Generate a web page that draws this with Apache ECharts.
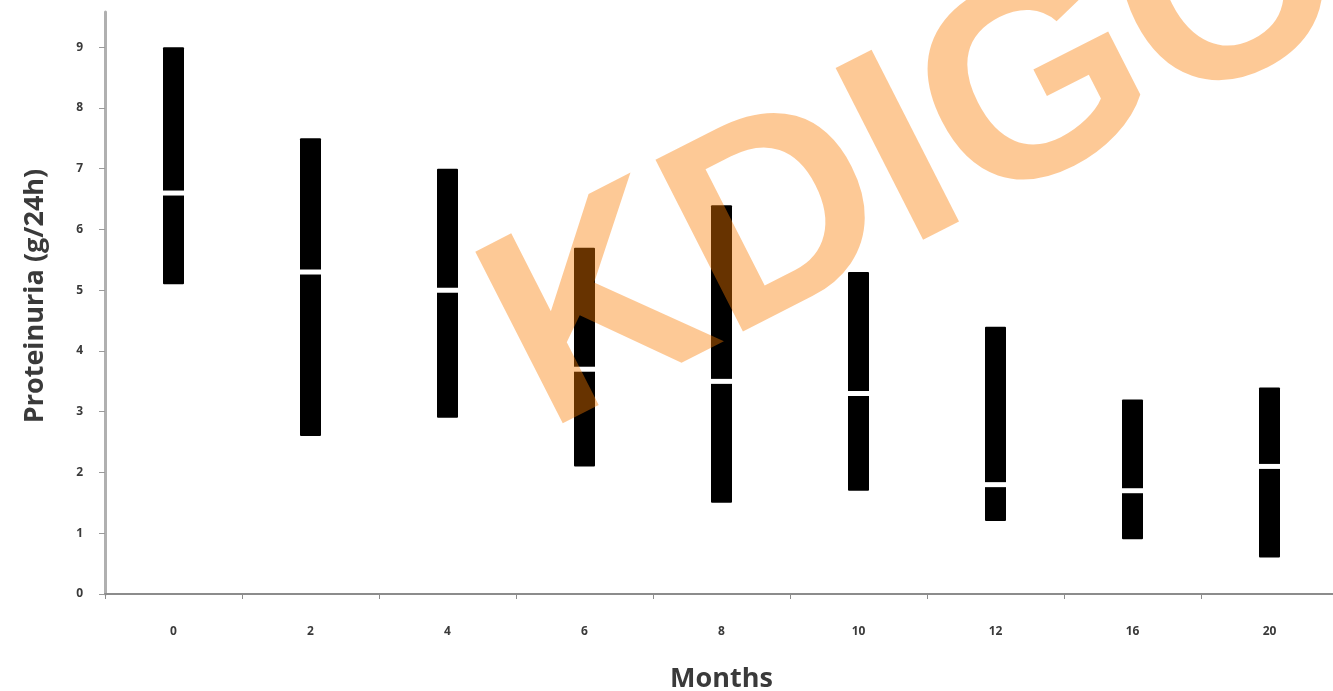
<!DOCTYPE html>
<html>
<head>
<meta charset="utf-8">
<script src="https://cdn.jsdelivr.net/npm/echarts@6/dist/echarts.min.js"></script>
<style>
html,body{margin:0;padding:0;background:#fff;}
#chart{width:1333px;height:691px;}
</style>
</head>
<body>
<div id="chart"></div>
<script>
const months = ['0', '2', '4', '6', '8', '10', '12', '16', '20'];
const lowValues = [5.1, 2.6, 2.9, 2.1, 1.5, 1.7, 1.2, 0.9, 0.6];
const highValues = [9.0, 7.5, 7.0, 5.7, 6.4, 5.3, 4.4, 3.2, 3.4];
const medianValues = [6.6, 5.3, 5.0, 3.7, 3.5, 3.3, 1.8, 1.7, 2.1];
const yTicks = [0, 1, 2, 3, 4, 5, 6, 7, 8, 9];

const data = months.map((m, i) => [i, lowValues[i], highValues[i], medianValues[i]]);

const chart = echarts.init(document.getElementById('chart'), null, {renderer: 'canvas'});
chart.setOption({
  animation: false,
  backgroundColor: '#ffffff',
  grid: {left: 105, right: -5, top: 12, bottom: 97, containLabel: false, outerBoundsMode: 'none'},
  xAxis: {
    type: 'category',
    data: months,
    boundaryGap: true,
    name: 'Months',
    nameLocation: 'middle',
    nameGap: 72,
    nameTextStyle: {fontFamily: 'Open Sans', fontWeight: 'bold', fontSize: 27, color: '#3a3a3a'},
    axisLine: {show: true, lineStyle: {color: '#8c8c8c', width: 2}},
    axisTick: {show: true, alignWithLabel: false, length: 5, lineStyle: {color: '#8c8c8c', width: 1}},
    axisLabel: {margin: 32, fontFamily: 'Open Sans', fontWeight: 'bold', fontSize: 12, color: '#3a3a3a'},
    splitLine: {show: false}
  },
  yAxis: {
    type: 'value',
    min: 0,
    max: 9.58,
    name: 'Proteinuria (g/24h)',
    nameLocation: 'middle',
    nameGap: 56,
    nameRotate: 90,
    nameTextStyle: {fontFamily: 'Open Sans', fontWeight: 'bold', fontSize: 27, color: '#3a3a3a', padding: [0, 0, 0, 14]},
    axisLine: {show: true, lineStyle: {color: '#b0b0b0', width: 3}},
    axisTick: {show: true, inside: false, length: 6, customValues: yTicks, lineStyle: {color: '#9a9a9a', width: 1}},
    axisLabel: {margin: 22, customValues: yTicks, fontFamily: 'Open Sans', fontWeight: 'bold', fontSize: 12, color: '#3a3a3a'},
    splitLine: {show: false}
  },
  series: [{
    type: 'custom',
    data: data,
    encode: {x: 0, y: [1, 2, 3]},
    renderItem: function (params, api) {
      const idx = api.value(0);
      const pLo = api.coord([idx, api.value(1)]);
      const pHi = api.coord([idx, api.value(2)]);
      const pMed = api.coord([idx, api.value(3)]);
      const w = 21;
      return {
        type: 'group',
        children: [
          {type: 'rect', shape: {x: pLo[0] - w / 2, y: pHi[1], width: w, height: pLo[1] - pHi[1], r: 1}, style: {fill: '#000000'}},
          {type: 'rect', shape: {x: pLo[0] - w / 2 - 1, y: pMed[1] - 2.5, width: w + 2, height: 5}, style: {fill: '#ffffff'}}
        ]
      };
    }
  }],
  graphic: [{
    type: 'text',
    x: 511,
    y: 363,
    rotation: 27 * Math.PI / 180,
    z: 100,
    silent: true,
    style: {
      text: 'KDIGO',
      fontFamily: 'Liberation Sans',
      fontWeight: 'bold',
      fontSize: 280,
      fill: 'rgba(250,125,0,0.41)',
      align: 'left',
      verticalAlign: 'middle'
    }
  }]
});
</script>
</body>
</html>
